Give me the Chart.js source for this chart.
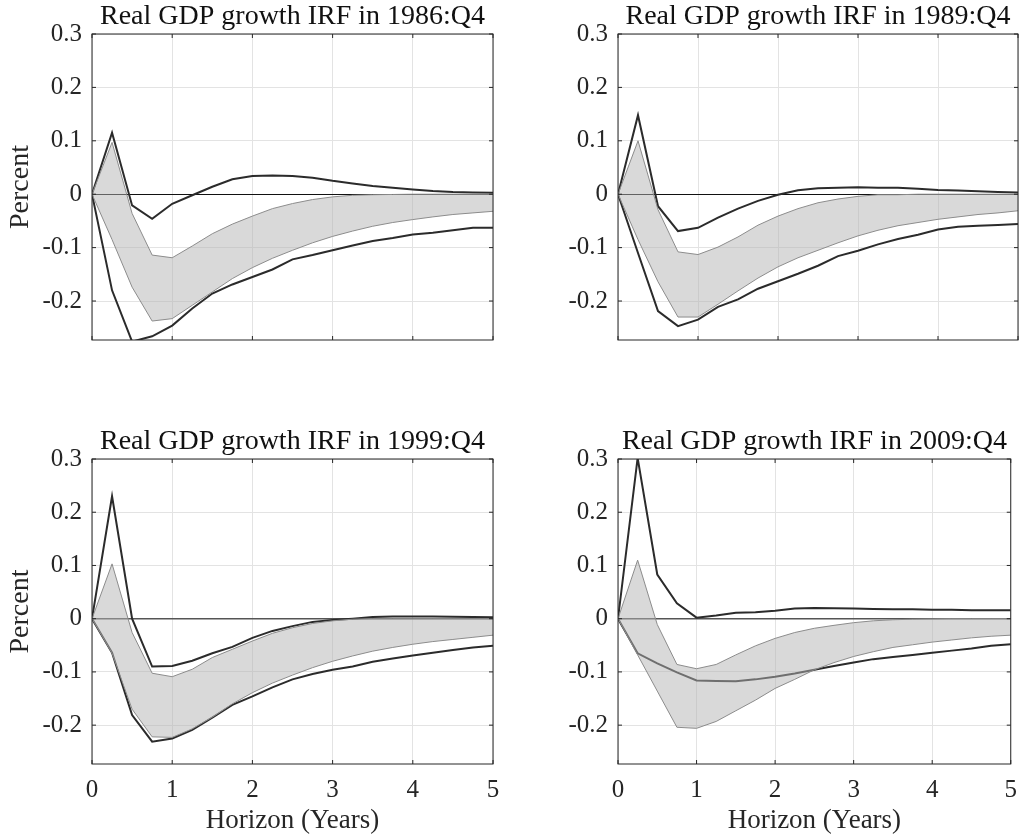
<!DOCTYPE html>
<html>
<head>
<meta charset="utf-8">
<script src="https://cdn.jsdelivr.net/npm/chart.js@4.4.1/dist/chart.umd.min.js"></script>
<style>
 body{margin:0;background:#fff}
 #wrap{position:relative;width:1028px;height:839px;background:#fff}
 canvas{position:absolute}
</style>
</head>
<body>
<div id="wrap">
 <canvas id="c1986" width="514" height="420" style="left:0;top:0"></canvas>
 <canvas id="c1989" width="514" height="420" style="left:514px;top:0"></canvas>
 <canvas id="c1999" width="514" height="419" style="left:0;top:420px"></canvas>
 <canvas id="c2009" width="514" height="419" style="left:514px;top:420px"></canvas>
</div>
<script>
/* ===== data ===== */
const horizon=[0,0.25,0.5,0.75,1,1.25,1.5,1.75,2,2.25,2.5,2.75,3,3.25,3.5,3.75,4,4.25,4.5,4.75,5];
const xTicks=[0,1,2,3,4,5];
const yTicks=[-0.2,-0.1,0,0.1,0.2,0.3];
const yMin=-0.273, yMax=0.3;

const titles=["Real GDP growth IRF in 1986:Q4","Real GDP growth IRF in 1989:Q4",
 "Real GDP growth IRF in 1999:Q4","Real GDP growth IRF in 2009:Q4"];

// 1986:Q4
const hi1986=[0,0.115,-0.021,-0.046,-0.018,-0.002,0.014,0.028,0.034,0.035,0.034,0.031,0.025,0.02,0.0155,0.012,0.009,0.006,0.004,0.003,0.0025];
const lo1986=[0,-0.18,-0.276,-0.266,-0.246,-0.214,-0.186,-0.169,-0.155,-0.141,-0.122,-0.114,-0.105,-0.096,-0.0875,-0.082,-0.0756,-0.072,-0.0675,-0.063,-0.063];
const bandHi1986=[0,0.097,-0.036,-0.114,-0.119,-0.097,-0.074,-0.056,-0.041,-0.027,-0.0175,-0.010,-0.005,-0.002,-0.001,-0.0005,0,0,0,0,0];
const bandLo1986=[0,-0.085,-0.174,-0.2375,-0.233,-0.208,-0.183,-0.158,-0.1375,-0.12,-0.105,-0.091,-0.079,-0.069,-0.06,-0.053,-0.0475,-0.0425,-0.038,-0.035,-0.032];

// 1989:Q4
const hi1989=[0,0.148,-0.0225,-0.069,-0.063,-0.044,-0.027,-0.0125,-0.001,0.0075,0.011,0.012,0.013,0.012,0.012,0.010,0.008,0.007,0.0056,0.004,0.003];
const lo1989=[0,-0.11,-0.219,-0.247,-0.235,-0.211,-0.197,-0.177,-0.163,-0.149,-0.134,-0.116,-0.106,-0.094,-0.084,-0.076,-0.066,-0.061,-0.059,-0.0575,-0.056];
const bandHi1989=[0,0.1,-0.029,-0.108,-0.113,-0.099,-0.08,-0.058,-0.041,-0.027,-0.016,-0.009,-0.004,-0.001,-0.001,0,0,0,0,0,0];
const bandLo1989=[0,-0.085,-0.164,-0.23,-0.23,-0.206,-0.181,-0.157,-0.136,-0.119,-0.105,-0.091,-0.078,-0.0675,-0.059,-0.053,-0.047,-0.0425,-0.038,-0.035,-0.031];

// 1999:Q4
const hi1999=[0,0.23,0.0,-0.09,-0.089,-0.079,-0.065,-0.053,-0.036,-0.023,-0.014,-0.006,-0.0025,0,0.003,0.004,0.004,0.004,0.0035,0.003,0.0025];
const lo1999=[0,-0.064,-0.181,-0.231,-0.225,-0.209,-0.186,-0.162,-0.146,-0.129,-0.114,-0.104,-0.096,-0.09,-0.081,-0.075,-0.069,-0.064,-0.059,-0.054,-0.051];
const bandHi1999=[0,0.103,-0.026,-0.1025,-0.109,-0.095,-0.073,-0.0575,-0.042,-0.0275,-0.017,-0.009,-0.004,-0.001,0,0,0,0,0,0,0];
const bandLo1999=[0,-0.065,-0.17,-0.222,-0.223,-0.207,-0.185,-0.16,-0.139,-0.121,-0.106,-0.092,-0.08,-0.07,-0.061,-0.054,-0.048,-0.043,-0.039,-0.035,-0.031];

// 2009:Q4
const hi2009=[0,0.302,0.083,0.029,0.002,0.006,0.011,0.012,0.015,0.019,0.020,0.0195,0.019,0.018,0.0175,0.0175,0.017,0.017,0.016,0.016,0.016];
const lo2009=[0,-0.065,-0.084,-0.101,-0.116,-0.117,-0.1175,-0.114,-0.109,-0.103,-0.096,-0.089,-0.0825,-0.076,-0.072,-0.068,-0.064,-0.06,-0.056,-0.051,-0.048];
const bandHi2009=[0,0.11,-0.011,-0.086,-0.094,-0.086,-0.068,-0.051,-0.037,-0.026,-0.018,-0.0125,-0.0075,-0.004,-0.002,-0.001,-0.0005,0,0,0,0];
const bandLo2009=[0,-0.068,-0.136,-0.204,-0.206,-0.193,-0.173,-0.153,-0.131,-0.114,-0.096,-0.0825,-0.071,-0.062,-0.054,-0.049,-0.044,-0.040,-0.036,-0.033,-0.031];

/* ===== styles ===== */
const ink="#262626", dark="#2b2b2b", edge="#8c8c8c", gridC="#e3e3e3";
const bandFill="rgba(179,179,179,0.5)";
Chart.defaults.font.family='"Liberation Serif","Times New Roman",serif';
Chart.defaults.color=ink;

const panels=[
 {id:"c1986",title:titles[0],hi:hi1986,lo:lo1986,bHi:bandHi1986,bLo:bandLo1986,left:true,bottom:false,zeroC:"#111",zeroW:1},
 {id:"c1989",title:titles[1],hi:hi1989,lo:lo1989,bHi:bandHi1989,bLo:bandLo1989,left:false,bottom:false,zeroC:"#111",zeroW:1},
 {id:"c1999",title:titles[2],hi:hi1999,lo:lo1999,bHi:bandHi1999,bLo:bandLo1999,left:true,bottom:true,zeroC:"#555",zeroW:1.6},
 {id:"c2009",title:titles[3],hi:hi2009,lo:lo2009,bHi:bandHi2009,bLo:bandLo2009,left:false,bottom:true,zeroC:"#555",zeroW:1.6}
];

function pts(v){return horizon.map((h,i)=>({x:h,y:v[i]}));}

/* box round the axes, with inward ticks like the original */
const boxPlugin={
 id:"box",
 afterDatasetsDraw(c){
  const {ctx,chartArea:a,scales:{x,y}}=c;
  ctx.save();
  ctx.strokeStyle=ink;ctx.lineWidth=1;
  ctx.beginPath();
  xTicks.forEach(v=>{
   const px=x.getPixelForValue(v);
   ctx.moveTo(px,a.bottom);ctx.lineTo(px,a.bottom-4);
   ctx.moveTo(px,a.top);ctx.lineTo(px,a.top+4);
  });
  yTicks.forEach(v=>{
   const py=y.getPixelForValue(v);
   ctx.moveTo(a.left,py);ctx.lineTo(a.left+4,py);
   ctx.moveTo(a.right,py);ctx.lineTo(a.right-4,py);
  });
  ctx.stroke();
  ctx.strokeRect(a.left,a.top,a.right-a.left,a.bottom-a.top);
  ctx.restore();
 }
};

function makeChart(p){
 const H=p.bottom?419:420;
 const axisH=H-(p.bottom?344:340);
 return new Chart(document.getElementById(p.id),{
  type:"line",
  data:{datasets:[
   {data:pts(p.bLo),borderColor:edge,borderWidth:1,fill:false},
   {data:pts(p.bHi),borderColor:edge,borderWidth:1,fill:"-1",backgroundColor:bandFill},
   {data:pts(p.hi),borderColor:dark,borderWidth:2,fill:false},
   {data:pts(p.lo),borderColor:dark,borderWidth:2,fill:false}
  ]},
  options:{
   responsive:false,animation:false,
   elements:{point:{radius:0},line:{tension:0}},
   layout:{padding:{left:0,right:p.left?21:10,top:0,bottom:0}},
   plugins:{
    legend:{display:false},tooltip:{enabled:false},
    title:{display:true,text:p.title,fullSize:false,color:"#111",
     font:{size:28,lineHeight:1,weight:"normal"},
     padding:{top:p.bottom?7.5:2.5,bottom:3.5}}
   },
   scales:{
    x:{type:"linear",min:0,max:5,
     afterBuildTicks:s=>{s.ticks=xTicks.map(v=>({value:v}))},
     afterFit:s=>{s.height=axisH},
     grid:{color:gridC,drawTicks:false},border:{display:false},
     ticks:{display:p.bottom,font:{size:25},color:ink,padding:11,maxRotation:0},
     title:{display:p.bottom,text:"Horizon (Years)",color:ink,
      font:{size:27,lineHeight:1},padding:{bottom:5}}},
    y:{type:"linear",min:yMin,max:yMax,
     afterBuildTicks:s=>{s.ticks=yTicks.map(v=>({value:v}))},
     afterFit:s=>{s.width=p.left?92:104},
     grid:{color:c=>c.tick.value===0?p.zeroC:gridC,
      lineWidth:c=>c.tick.value===0?p.zeroW:1,drawTicks:false},
     border:{display:false},
     ticks:{font:{size:25},color:ink,padding:10,callback:v=>v===0?"0":v.toFixed(1)},
     title:{display:p.left,text:"Percent",color:ink,
      font:{size:28,lineHeight:1},padding:{top:7}}}
   }
  },
  plugins:[boxPlugin]
 });
}

panels.forEach(makeChart);
</script>
</body>
</html>
